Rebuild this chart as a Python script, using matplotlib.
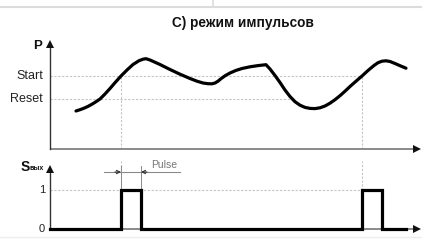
import matplotlib
matplotlib.use("Agg")
import matplotlib.pyplot as plt
from matplotlib.lines import Line2D

plt.rcParams['font.family'] = ['Liberation Sans', 'DejaVu Sans']

# ---- data ----
title = "С) режим импульсов"
p_levels = {"Start": 73, "Reset": 50}
curve_t = [26, 30, 34, 38, 42, 46, 50, 55, 60, 65, 71, 77, 83, 89, 93, 96,
           100, 110, 120, 130, 140, 147, 153, 158, 162, 165, 168, 171, 175, 180,
           186, 192, 200, 208, 216, 220, 225, 230, 235, 240, 245, 250, 255, 260,
           265, 270, 275, 280, 285, 290, 295, 300, 306, 312, 318, 324, 328, 332,
           336, 340, 345, 350, 356]
curve_p = [38, 39.3, 40.8, 42.6, 44.8, 47.3, 50, 55, 60.5, 66.3, 73, 79, 84.5, 88.3, 89.8, 90.3,
           89, 84.5, 79.5, 74.8, 70.5, 67.8, 66, 65.3, 65.2, 66, 67.8, 70.3, 73.2, 76,
           78.6, 80.5, 82.2, 83.4, 84.3, 80, 73.5, 66.5, 59, 52.5, 47.3, 43.8, 41.6, 40.6,
           40.4, 41.2, 43, 45.8, 49.3, 53.3, 57.8, 62.5, 67.8, 73, 78.5, 83.5, 86.3, 87.8,
           88.2, 87.5, 85.5, 83.3, 80.8]
pulse_starts = [71, 312]
pulse_width = 20
t_end_signal = 356
s_ticks = [0, 1]
pulse_label = "Pulse"

W, H = 422, 247
fig = plt.figure(figsize=(W / 100, H / 100), dpi=100)
fig.patch.set_facecolor('white')

def fx(px):
    return px / W

def fy(py):
    return 1 - py / H

# page decoration lines
fig.add_artist(Line2D([0, 1], [fy(7), fy(7)], color='#dcdcdc', lw=1.5))
fig.add_artist(Line2D([fx(213), fx(213)], [fy(0), fy(7)], color='#dcdcdc', lw=1.2))
fig.add_artist(Line2D([0, 1], [fy(236.5), fy(236.5)], color='#eeeeee', lw=1))

AX_GRAY = '#8a8a8a'
DASH = '#c4c4c4'

# ---- top panel ----
ax1 = fig.add_axes([fx(50), fy(149), fx(370), (149 - 38) / H])
ax1.set_xlim(0, 370)
ax1.set_ylim(0, 111)
ax1.axis('off')

ax1.plot([0, 312], [p_levels["Start"]] * 2, color=DASH, lw=0.8, ls=(0, (2, 1.5)), zorder=1)
ax1.plot([0, 242], [p_levels["Reset"]] * 2, color=DASH, lw=0.8, ls=(0, (2, 1.5)), zorder=1)
for ps in pulse_starts:
    ax1.plot([ps, ps], [0, p_levels["Start"]], color=DASH, lw=0.8, ls=(0, (2, 1.5)), zorder=1)

ax1.plot([0, 366], [0, 0], color=AX_GRAY, lw=1.4, clip_on=False, solid_capstyle='butt')
ax1.plot([0, 0], [0, 104], color='#333333', lw=1.0, clip_on=False)
ax1.plot([367], [0], marker='>', ms=6, color='#111111', clip_on=False, mew=0)
ax1.plot([0], [105], marker='^', ms=6, color='#111111', clip_on=False, mew=0)

ax1.plot(curve_t, curve_p, color='black', lw=2.3, solid_joinstyle='round',
         solid_capstyle='round', zorder=3)

for name, val in p_levels.items():
    ax1.text(-7, val, name, ha='right', va='center', fontsize=9, color='#222222')
ax1.text(-8, 103, "P", ha='right', va='center', fontsize=9.5, fontweight='bold', color='#111111')
ax1.text(193, 126, title, ha='center', va='center', fontsize=9.8, fontweight='bold', color='#111111')

# ---- bottom panel ----
ax2 = fig.add_axes([fx(50), fy(229), fx(370), (229 - 160) / H])
ax2.set_xlim(0, 370)
unit = 39.0
ax2.set_ylim(0, (229 - 160) / unit)
ax2.axis('off')

ax2.plot([0, pulse_starts[-1]], [1, 1], color=DASH, lw=0.8, ls=(0, (2, 1.5)), zorder=1)
ax2.plot([pulse_starts[0]] * 2, [1, 1.75], color=DASH, lw=0.8, ls=(0, (2, 1.5)), zorder=1, clip_on=False)
ax2.plot([pulse_starts[1]] * 2, [1, 1.75], color=DASH, lw=0.8, ls=(0, (2, 1.5)), zorder=1, clip_on=False)

ax2.plot([0, 366], [0, 0], color=AX_GRAY, lw=1.4, clip_on=False, solid_capstyle='butt', zorder=1)
ax2.plot([0, 0], [0, 1.5], color='#333333', lw=1.0, clip_on=False)
ax2.plot([367], [0], marker='>', ms=6, color='#111111', clip_on=False, mew=0)
ax2.plot([0], [1.55], marker='^', ms=6, color='#111111', clip_on=False, mew=0)

sx, sy = [0], [0]
for ps in pulse_starts:
    sx += [ps, ps, ps + pulse_width, ps + pulse_width]
    sy += [0, 1, 1, 0]
sx.append(t_end_signal)
sy.append(0)
ax2.plot(sx, sy, color='black', lw=2.3, solid_joinstyle='miter', clip_on=False, zorder=3)

p0 = pulse_starts[0]
p1 = p0 + pulse_width
ya = (229 - 172) / unit
ax2.plot([p0 - 17, p1 + 39], [ya, ya], color=AX_GRAY, lw=0.8, clip_on=False)
ax2.plot([p0, p0], [1, ya + 0.15], color=AX_GRAY, lw=0.7, clip_on=False)
ax2.plot([p1, p1], [1, ya + 0.15], color=AX_GRAY, lw=0.7, clip_on=False)
ax2.annotate('', xy=(p0, ya), xytext=(p0 - 6, ya),
             arrowprops=dict(arrowstyle='->', color='#333333', lw=0.8, shrinkA=0, shrinkB=0,
                             mutation_scale=6), annotation_clip=False)
ax2.annotate('', xy=(p1, ya), xytext=(p1 + 6, ya),
             arrowprops=dict(arrowstyle='->', color='#333333', lw=0.8, shrinkA=0, shrinkB=0,
                             mutation_scale=6), annotation_clip=False)
ax2.text(p1 + 10, ya + 0.05, pulse_label, ha='left', va='bottom', fontsize=7.5, color='#777777')

for v in s_ticks:
    ax2.text(-5, v, str(v), ha='right', va='center', fontsize=8, color='#222222')
ax2.text(-20, 1.6, "S", ha='right', va='center', fontsize=10, fontweight='bold', color='#111111')
ax2.text(-20, 1.55, "вых", ha='left', va='center', fontsize=5, fontweight='bold', color='#111111')

fig.savefig("out.png", dpi=100, facecolor='white')
